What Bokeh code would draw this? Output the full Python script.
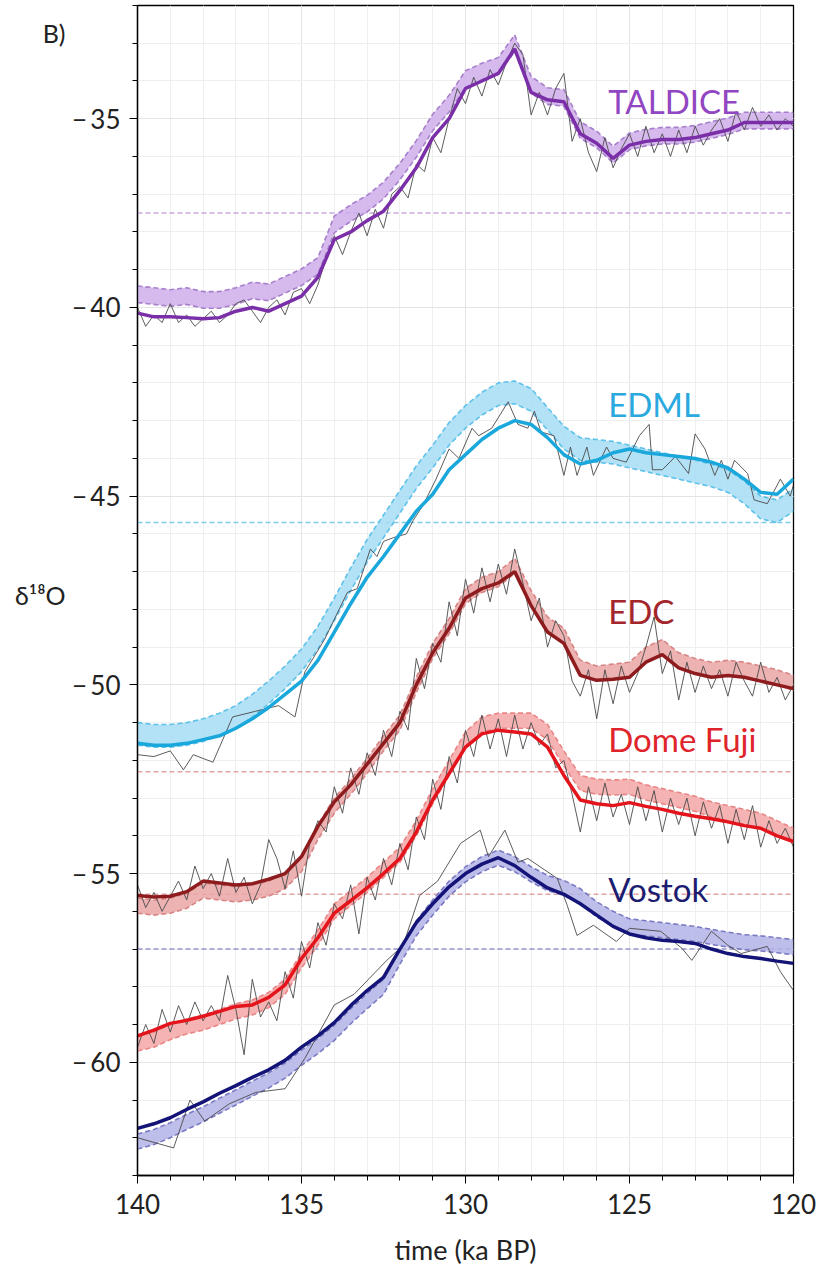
from bokeh.plotting import figure
from bokeh.models import Range1d, SingleIntervalTicker, Label, LinearAxis, FixedTicker
from bokeh.embed import file_html
from bokeh.resources import INLINE

# ---------------- data ----------------
# smooth curves and uncertainty bands, sampled every 0.5 ka
t_smooth = [140.0, 139.5, 139.0, 138.5, 138.0, 137.5, 137.0, 136.5, 136.0, 135.5,
            135.0, 134.5, 134.0, 133.5, 133.0, 132.5, 132.0, 131.5, 131.0, 130.5,
            130.0, 129.5, 129.0, 128.5, 128.0, 127.5, 127.0, 126.5, 126.0, 125.5,
            125.0, 124.5, 124.0, 123.5, 123.0, 122.5, 122.0, 121.5, 121.0, 120.5, 120.0]

taldice_line = [-40.15, -40.25, -40.25, -40.27, -40.3, -40.27, -40.1, -40.0, -40.1, -39.9,
                -39.7, -39.2, -38.2, -38.0, -37.7, -37.45, -36.9, -36.3, -35.5, -35.0,
                -34.2, -34.0, -33.8, -33.15, -34.3, -34.5, -34.55, -35.4, -35.65, -36.05,
                -35.7, -35.6, -35.55, -35.55, -35.5, -35.4, -35.3, -35.1, -35.1, -35.1, -35.1]
taldice_band = [-39.65, -39.7, -39.75, -39.7, -39.8, -39.8, -39.7, -39.55, -39.6, -39.4,
                -39.2, -38.9, -37.8, -37.5, -37.25, -36.9, -36.4, -35.8, -35.1, -34.6,
                -33.95, -33.75, -33.6, -33.0, -34.1, -34.4, -34.45, -35.3, -35.55, -35.95,
                -35.6, -35.5, -35.45, -35.45, -35.4, -35.3, -35.2, -35.05, -35.05, -35.05, -35.05]

edml_line = [-51.55, -51.6, -51.6, -51.55, -51.45, -51.35, -51.15, -50.9, -50.6, -50.25,
             -49.9, -49.35, -48.6, -47.85, -47.15, -46.6, -46.0, -45.4, -44.95, -44.3,
             -43.9, -43.5, -43.2, -43.0, -43.1, -43.45, -43.9, -44.15, -44.05, -43.85,
             -43.75, -43.85, -43.9, -43.95, -44.0, -44.1, -44.25, -44.55, -44.9, -44.95, -44.55]
edml_band = [-51.3, -51.35, -51.35, -51.3, -51.2, -51.05, -50.85, -50.55, -50.2, -49.8,
             -49.35, -48.75, -48.0, -47.2, -46.45, -45.8, -45.15, -44.5, -43.95, -43.35,
             -42.9, -42.55, -42.3, -42.25, -42.45, -42.95, -43.45, -43.75, -43.8, -43.85,
             -43.95, -44.05, -44.15, -44.25, -44.35, -44.45, -44.6, -44.9, -45.3, -45.4, -45.1]

edc_line = [-55.58, -55.62, -55.6, -55.48, -55.2, -55.25, -55.3, -55.27, -55.15, -55.0,
            -54.55, -53.75, -53.1, -52.65, -52.1, -51.55, -51.0, -50.0, -49.15, -48.5,
            -47.7, -47.45, -47.3, -47.0, -47.9, -48.6, -48.9, -49.75, -49.88, -49.85,
            -49.8, -49.4, -49.2, -49.55, -49.7, -49.8, -49.75, -49.8, -49.9, -50.0, -50.1]
edc_band = [-55.85, -55.9, -55.85, -55.72, -55.45, -55.5, -55.55, -55.5, -55.4, -55.2,
            -54.75, -53.9, -53.2, -52.7, -52.15, -51.55, -51.0, -50.0, -49.1, -48.45,
            -47.65, -47.35, -47.2, -46.85, -47.7, -48.4, -48.7, -49.55, -49.7, -49.65,
            -49.6, -49.2, -49.0, -49.35, -49.5, -49.6, -49.55, -49.6, -49.7, -49.8, -49.95]

domefuji_line = [-59.3, -59.15, -58.97, -58.89, -58.78, -58.65, -58.52, -58.48, -58.28, -57.95,
                 -57.25, -56.7, -56.05, -55.72, -55.38, -55.0, -54.6, -53.9, -53.05, -52.35,
                 -51.65, -51.3, -51.2, -51.25, -51.3, -51.65, -52.4, -53.05, -53.15, -53.2,
                 -53.12, -53.22, -53.3, -53.4, -53.48, -53.55, -53.63, -53.73, -53.8, -54.0, -54.15]
domefuji_band = [-59.5, -59.4, -59.2, -59.05, -58.95, -58.8, -58.65, -58.55, -58.35, -58.0,
                 -57.3, -56.7, -56.0, -55.65, -55.3, -54.9, -54.5, -53.8, -52.95, -52.2,
                 -51.45, -51.05, -50.95, -50.95, -50.95, -51.25, -51.95, -52.6, -52.7, -52.72,
                 -52.7, -52.85, -52.95, -53.05, -53.15, -53.3, -53.4, -53.5, -53.6, -53.8, -54.0]

vostok_line = [-61.75, -61.63, -61.47, -61.25, -61.05, -60.82, -60.62, -60.4, -60.2, -59.95,
               -59.6, -59.3, -58.95, -58.5, -58.1, -57.75, -57.0, -56.3, -55.8, -55.35,
               -55.0, -54.75, -54.58, -54.79, -55.1, -55.38, -55.55, -55.8, -56.1, -56.4,
               -56.6, -56.7, -56.77, -56.8, -56.85, -57.0, -57.12, -57.2, -57.25, -57.32, -57.38]
vostok_band = [-62.1, -61.98, -61.8, -61.58, -61.38, -61.15, -60.93, -60.7, -60.48, -60.22,
               -59.88, -59.57, -59.22, -58.78, -58.38, -58.0, -57.2, -56.45, -55.9, -55.4,
               -55.02, -54.75, -54.58, -54.75, -55.02, -55.25, -55.38, -55.6, -55.95, -56.2,
               -56.4, -56.45, -56.5, -56.55, -56.6, -56.68, -56.75, -56.82, -56.85, -56.9, -56.95]

band_halfwidth = {"TALDICE": 0.22, "EDML": 0.3, "EDC": 0.2, "Dome Fuji": 0.2, "Vostok": 0.2}

# raw (measured) records
t_raw = [140.0, 139.75, 139.5, 139.25, 139.0, 138.75, 138.5, 138.25, 138.0, 137.75,
         137.5, 137.25, 137.0, 136.75, 136.5, 136.25, 136.0, 135.75, 135.5, 135.25,
         135.0, 134.75, 134.5, 134.25, 134.0, 133.75, 133.5, 133.25, 133.0, 132.75,
         132.5, 132.25, 132.0, 131.75, 131.5, 131.25, 131.0, 130.75, 130.5, 130.25,
         130.0, 129.75, 129.5, 129.25, 129.0, 128.75, 128.5, 128.25, 128.0, 127.75,
         127.5, 127.25, 127.0, 126.75, 126.5, 126.25, 126.0, 125.75, 125.5, 125.25,
         125.0, 124.75, 124.5, 124.25, 124.0, 123.75, 123.5, 123.25, 123.0, 122.75,
         122.5, 122.25, 122.0, 121.75, 121.5, 121.25, 121.0, 120.75, 120.5, 120.25, 120.0]

taldice_raw = [-40.0, -40.5, -40.2, -40.4, -39.9, -40.4, -40.2, -40.5, -40.3, -40.1,
               -40.4, -40.2, -39.9, -39.8, -40.1, -40.4, -40.0, -39.8, -40.2, -39.6,
               -39.5, -39.9, -39.4, -38.7, -38.1, -38.6, -38.0, -37.5, -38.1, -37.4,
               -37.9, -37.0, -36.8, -37.1, -36.2, -36.4, -35.5, -35.9, -35.0, -34.2,
               -34.6, -33.9, -34.4, -33.7, -34.1, -33.5, -33.0, -33.3, -34.9, -34.3,
               -34.9, -34.2, -33.8, -35.6, -35.0, -35.9, -36.4, -35.5, -36.3, -35.8,
               -35.4, -36.0, -35.2, -35.9, -35.4, -36.0, -35.3, -35.9, -35.2, -35.7,
               -35.3, -35.0, -35.6, -34.8, -35.3, -34.7, -35.2, -34.9, -35.3, -35.0, -35.2]

edc_raw = [-55.3, -55.9, -55.5, -56.0, -55.6, -55.2, -55.7, -54.8, -55.4, -55.0,
           -55.6, -54.6, -55.5, -55.1, -55.8, -55.3, -54.1, -54.6, -55.4, -54.4,
           -55.6, -54.2, -53.6, -53.9, -52.7, -53.4, -52.2, -52.9, -51.8, -52.4,
           -51.2, -51.9, -50.7, -51.2, -49.3, -50.1, -48.9, -49.4, -47.8, -48.7,
           -47.2, -48.1, -46.9, -47.8, -46.8, -47.6, -46.4, -47.3, -48.3, -47.7,
           -49.0, -48.3, -48.7, -49.9, -50.3, -49.6, -50.9, -49.6, -50.5, -49.5,
           -50.2, -49.7, -49.0, -48.2, -49.7, -49.1, -50.4, -49.4, -50.2, -49.5,
           -50.1, -49.6, -50.3, -49.4, -49.9, -50.3, -49.4, -50.2, -49.8, -50.4, -50.0]

domefuji_raw = [-59.6, -59.0, -59.5, -58.6, -59.2, -58.5, -59.0, -58.4, -58.9, -58.5,
                -58.9, -57.7, -58.6, -59.8, -57.8, -58.8, -58.4, -58.9, -57.6, -58.3,
                -56.8, -57.5, -56.3, -56.9, -55.8, -56.2, -55.3, -56.6, -55.1, -55.7,
                -54.6, -55.3, -54.2, -54.9, -53.5, -54.1, -52.5, -53.3, -51.9, -52.6,
                -51.2, -51.9, -50.8, -51.7, -50.9, -51.9, -50.8, -51.7, -51.0, -51.6,
                -51.3, -52.2, -52.0, -52.9, -53.9, -52.7, -53.6, -52.6, -53.5, -52.9,
                -53.7, -52.7, -53.6, -52.8, -53.9, -53.0, -53.7, -53.0, -54.0, -53.1,
                -53.8, -53.2, -54.2, -53.3, -54.1, -53.2, -54.3, -53.6, -54.2, -53.8, -54.3]

edml_raw_t = [140.0, 139.5, 139.0, 138.6, 138.3, 137.7, 137.1, 136.4, 135.7, 135.2,
              134.9, 134.3, 133.6, 133.3, 132.9, 132.7, 132.5, 132.2, 131.8, 131.6,
              131.3, 130.9, 130.5, 130.2, 129.8, 129.6, 129.2, 128.7, 128.4, 128.1,
              127.9, 127.7, 127.3, 127.0, 126.8, 126.6, 126.3, 126.1, 125.7, 125.5,
              125.1, 124.7, 124.4, 124.3, 124.0, 123.6, 123.2, 123.0, 122.7, 122.4,
              122.2, 122.0, 121.8, 121.4, 121.2, 120.8, 120.4, 120.1, 120.0]
edml_raw_v = [-51.85, -51.9, -51.75, -52.25, -51.85, -52.05, -50.85, -50.7, -50.55, -50.85,
              -49.66, -48.8, -47.55, -47.45, -46.4, -46.6, -46.2, -46.1, -46.0, -45.65,
              -45.25, -44.55, -43.75, -44.0, -43.2, -43.4, -43.2, -42.5, -43.1, -43.2,
              -42.75, -43.3, -43.4, -44.45, -43.7, -44.45, -43.7, -44.45, -43.7, -44.0,
              -44.1, -43.4, -43.1, -44.3, -44.3, -43.95, -44.4, -43.35, -43.75, -44.45,
              -44.05, -44.55, -44.05, -44.4, -45.1, -45.2, -44.55, -45.0, -44.7]

vostok_raw_t = [140.0, 138.9, 138.4, 137.95, 137.2, 136.4, 135.5, 134.9, 134.0, 133.4,
                132.4, 131.9, 131.4, 130.85, 130.15, 129.55, 129.3, 128.8, 128.4, 128.1,
                127.2, 126.9, 126.6, 126.1, 125.4, 125.0, 124.05, 123.4, 123.1, 122.5,
                122.0, 121.6, 120.8, 120.4, 120.0]
vostok_raw_v = [-62.0, -62.27, -61.0, -61.56, -61.1, -60.8, -60.7, -59.9, -58.48, -58.2,
                -57.3, -56.9, -55.58, -55.2, -54.2, -53.85, -54.55, -53.85, -54.7, -54.6,
                -55.13, -55.84, -56.64, -56.37, -56.8, -56.45, -56.53, -56.98, -57.3, -56.53,
                -56.9, -57.12, -56.93, -57.6, -58.1]

# reference (dashed horizontal) levels
ref_levels = [-37.5, -45.7, -52.3, -55.55, -57.0]
ref_colors = ["#caa6df", "#7fcbea", "#e2a3a3", "#e2a3a3", "#9595cf"]

names = ["TALDICE", "EDML", "EDC", "Dome Fuji", "Vostok"]
label_x = [125.65, 125.65, 125.65, 125.65, 125.65]
label_y = [-34.52, -42.57, -48.04, -51.43, -55.42]

y_ticks = [-60, -55, -50, -45, -40, -35]
y_tick_labels = ["\u2212\u200960", "\u2212\u200955", "\u2212\u200950",
                 "\u2212\u200945", "\u2212\u200940", "\u2212\u200935"]
panel_tag = "B)"
y_title = "\u03b4\u00b9\u2078O"
x_title = "time (ka BP)"

# ---------------- styles ----------------
FONT = "Lato"
line_colors = {"TALDICE": "#7a2fa8", "EDML": "#1aa8dc", "EDC": "#8e1c1e",
               "Dome Fuji": "#e3141c", "Vostok": "#141478"}
band_colors = {"TALDICE": "#cfaeea", "EDML": "#a6ddf4", "EDC": "#eaa6a6",
               "Dome Fuji": "#f5a6a6", "Vostok": "#b3b3e8"}
edge_colors = {"TALDICE": "#a77fcc", "EDML": "#5ec1ea", "EDC": "#d88484",
               "Dome Fuji": "#ea8585", "Vostok": "#7a7ac4"}
label_colors = {"TALDICE": "#9146c2", "EDML": "#2aa9df", "EDC": "#a3262a",
                "Dome Fuji": "#e0242b", "Vostok": "#1c1c70"}

series = {
    "TALDICE": (taldice_line, taldice_band, t_raw, taldice_raw),
    "EDML": (edml_line, edml_band, edml_raw_t, edml_raw_v),
    "EDC": (edc_line, edc_band, t_raw, edc_raw),
    "Dome Fuji": (domefuji_line, domefuji_band, t_raw, domefuji_raw),
    "Vostok": (vostok_line, vostok_band, vostok_raw_t, vostok_raw_v),
}

p = figure(width=823, height=1268, x_range=Range1d(140, 120), y_range=Range1d(-63, -32),
           output_backend="svg", toolbar_location=None,
           min_border_left=137, min_border_right=30, min_border_top=5, min_border_bottom=90)
p.background_fill_color = "white"
p.border_fill_color = "white"
p.outline_line_color = "black"
p.outline_line_width = 1.3

xt = SingleIntervalTicker(interval=5, num_minor_ticks=5)
yt = SingleIntervalTicker(interval=5, num_minor_ticks=5)
p.xaxis.ticker = xt
p.yaxis.ticker = yt
p.xgrid.ticker = xt
p.ygrid.ticker = yt
for g in (p.xgrid, p.ygrid):
    g.grid_line_color = "#e4e4e4"
    g.grid_line_width = 1
    g.minor_grid_line_color = "#efefef"
    g.minor_grid_line_width = 1

for ax in (p.xaxis, p.yaxis):
    ax.axis_line_color = "black"
    ax.axis_line_width = 1.3
    ax.major_tick_line_color = "black"
    ax.minor_tick_line_color = "black"
    ax.major_tick_in = 0
    ax.major_tick_out = 8
    ax.minor_tick_in = 0
    ax.minor_tick_out = 5
    ax.major_label_text_font = FONT
    ax.major_label_text_font_size = "26px"
    ax.major_label_text_color = "#222222"

p.yaxis.major_label_standoff = 9
p.yaxis.major_label_overrides = dict(zip(y_ticks, y_tick_labels))
p.xaxis.major_label_standoff = 10
p.xaxis.axis_label = x_title
p.xaxis.axis_label_text_font = FONT
p.xaxis.axis_label_text_font_style = "normal"
p.xaxis.axis_label_text_font_size = "27px"
p.xaxis.axis_label_text_color = "#222222"
p.xaxis.axis_label_standoff = 16

# outer left axis carrying the panel tag and the y title (texts only)
outer = LinearAxis(ticker=FixedTicker(ticks=[-32.74, -47.62]),
                   major_label_overrides={-32.74: panel_tag, -47.62: y_title},
                   axis_line_color=None, major_tick_line_color=None,
                   minor_tick_line_color=None, major_tick_out=0, major_tick_in=0,
                   major_label_standoff=4, major_label_text_font=FONT,
                   major_label_text_font_size="25px", major_label_text_color="#222222")
p.add_layout(outer, "left")

# reference levels
for lvl, col in zip(ref_levels, ref_colors):
    p.line([140, 120], [lvl, lvl], line_color=col, line_width=1.5, line_dash="5 3")

for name in names:
    line_v, band_c, rt, rv = series[name]
    hw = band_halfwidth[name]
    lo = [c - hw for c in band_c]
    hi = [c + hw for c in band_c]
    p.varea(x=t_smooth, y1=lo, y2=hi, fill_color=band_colors[name], fill_alpha=0.85)
    p.line(t_smooth, lo, line_color=edge_colors[name], line_width=1.6, line_dash="5 3")
    p.line(t_smooth, hi, line_color=edge_colors[name], line_width=1.6, line_dash="5 3")
    p.line(rt, rv, line_color="#4a4a4a", line_width=0.9)
    p.line(t_smooth, line_v, line_color=line_colors[name], line_width=3.5)

for name, lx, ly in zip(names, label_x, label_y):
    p.add_layout(Label(x=lx, y=ly, text=name, text_font=FONT, text_font_size="33px",
                       text_color=label_colors[name], text_align="left",
                       text_baseline="alphabetic"))

open("out.html", "w").write(file_html(p, INLINE))
